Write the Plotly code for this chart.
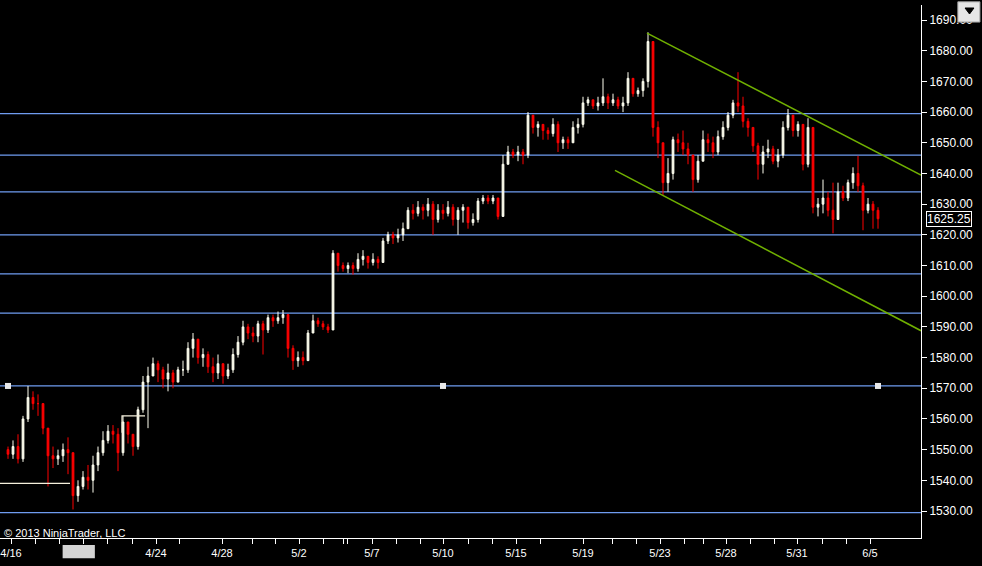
import plotly.graph_objects as go

# ---- data (bar index, price) ----
closes = [
    1548.5, 1551, 1547, 1560, 1567, 1565, 1565, 1557, 1548, 1547,
    1548, 1550, 1549, 1535, 1538, 1541, 1540, 1545, 1549, 1553,
    1556, 1555, 1549, 1559, 1555, 1551, 1563, 1572, 1574, 1578,
    1576, 1573, 1575, 1572, 1576, 1576, 1583, 1586, 1580, 1581,
    1577, 1575, 1578, 1574, 1576, 1581, 1585, 1590, 1588, 1587,
    1591, 1589, 1593, 1592, 1593, 1594, 1583, 1579, 1580, 1579,
    1588, 1592, 1591, 1590, 1589, 1614, 1610, 1609, 1610, 1609,
    1612, 1613, 1611, 1612, 1611, 1618, 1620, 1619, 1620, 1622,
    1628, 1627, 1629, 1628, 1630, 1625, 1628, 1627, 1629, 1625,
    1628, 1629, 1624, 1625, 1631, 1632, 1631, 1632, 1626, 1643,
    1647, 1646, 1647, 1646, 1659, 1655, 1656, 1654, 1653, 1656,
    1650, 1651, 1650, 1655, 1656, 1663, 1664, 1662, 1663, 1665,
    1663, 1664, 1662, 1663, 1671, 1666, 1667, 1670, 1683, 1655,
    1650, 1637, 1640, 1651, 1650, 1648, 1646, 1638, 1644, 1651,
    1650, 1647, 1652, 1655, 1659, 1663, 1662, 1657, 1655, 1649,
    1643, 1647, 1648, 1644, 1646, 1655, 1659, 1654, 1656, 1643,
    1655, 1629, 1630, 1632, 1628, 1625, 1634, 1632, 1637, 1640,
    1636, 1628, 1630, 1628, 1625.25,
]
highs = [
    1551, 1553, 1555, 1561, 1570.75, 1569, 1568, 1563, 1556, 1551,
    1550, 1552, 1554, 1546, 1540, 1543, 1545, 1548, 1551, 1556,
    1558, 1558, 1557, 1561, 1559, 1555, 1564, 1574, 1577, 1580,
    1579, 1577, 1578, 1576, 1577, 1579, 1585, 1588, 1586, 1583,
    1582, 1580, 1581, 1577, 1578, 1583, 1587, 1592, 1591, 1590,
    1592, 1592, 1594, 1594, 1595, 1595.5, 1592, 1584, 1582, 1582,
    1589, 1594, 1593, 1592, 1591, 1615, 1614, 1611, 1611, 1611,
    1614, 1615, 1613, 1614, 1613, 1619, 1621, 1621, 1622, 1624,
    1629, 1630, 1631, 1630, 1632, 1631, 1630, 1630, 1631, 1630,
    1629, 1630, 1628, 1627, 1632, 1633, 1633, 1633, 1631, 1646,
    1649, 1648, 1649, 1648, 1660, 1658, 1657, 1656, 1655, 1658,
    1657, 1652, 1652, 1657, 1658, 1665, 1665, 1664, 1665, 1671,
    1666, 1666, 1665, 1665, 1673, 1670, 1668, 1671, 1686, 1680,
    1657, 1650, 1645, 1652, 1653, 1654, 1650, 1645, 1646, 1654,
    1653, 1652, 1654, 1657, 1660, 1664, 1673, 1665, 1658, 1655,
    1650, 1649, 1651, 1649, 1648, 1657, 1661, 1658, 1657, 1655,
    1658, 1652, 1632, 1638, 1634, 1637, 1637, 1636, 1638, 1642,
    1645.75, 1637, 1632, 1631, 1629,
]
lows = [
    1547, 1547, 1545.5, 1546, 1559, 1563, 1561, 1555, 1538, 1544,
    1545, 1546, 1542, 1530.5, 1533, 1537, 1537, 1536, 1543, 1548,
    1552, 1552, 1543, 1548, 1552, 1548, 1550, 1562, 1557, 1574,
    1572, 1570, 1569, 1570, 1572, 1574, 1575, 1580, 1578, 1577,
    1575, 1572, 1573, 1571.5, 1573, 1575, 1580, 1584, 1586, 1585,
    1585, 1581, 1588, 1590, 1591, 1591, 1580, 1576, 1577, 1577.5,
    1579, 1588, 1590, 1589, 1588, 1589, 1608, 1608, 1607.5, 1607,
    1608, 1610, 1609, 1610, 1609, 1611, 1617, 1617, 1617.5, 1618,
    1622, 1625, 1626, 1625, 1626, 1620, 1624, 1625, 1626, 1623,
    1620, 1624, 1622, 1623, 1624, 1630, 1630, 1630, 1625, 1627,
    1644, 1645, 1644, 1643, 1645, 1653, 1652, 1651, 1651, 1652,
    1647, 1648, 1648, 1650, 1653, 1655, 1662, 1661, 1660.5, 1662,
    1661, 1662, 1661, 1660, 1662, 1665, 1665, 1665, 1668, 1652,
    1645, 1633, 1634, 1638, 1647, 1646, 1643, 1634, 1637, 1644,
    1647, 1645, 1646, 1651, 1654, 1658, 1660, 1655, 1652, 1647,
    1638, 1640, 1645, 1643, 1642, 1645, 1654, 1652, 1652, 1641,
    1642, 1627, 1626, 1627, 1626, 1620.5, 1626, 1631, 1631, 1635,
    1634, 1621.5, 1627, 1622, 1622,
]
first_open = 1550

# horizontal price levels drawn on the chart
levels = [1659.5, 1646, 1634, 1620, 1607.25, 1594.5, 1570.75, 1529.5]

# trend channel (bar index, price)
upper_trend_x = [127.8, 182.6]
upper_trend_y = [1685.75, 1639.5]
lower_trend_x = [121.4, 182.6]
lower_trend_y = [1641.0, 1588.75]

# small white step lines
step1_x = [-1.6, 12.4]
step1_y = [1539, 1539]
step2_x = [22.8, 22.8, 27.4]
step2_y = [1555.5, 1561, 1561]

# anchor squares of the selected line
anchor_x = [0, 87, 174]
anchor_y = [1570.75, 1570.75, 1570.75]

date_labels = ["4/16", "4/24", "4/28", "5/2", "5/7", "5/10",
               "5/15", "5/19", "5/23", "5/28", "5/31", "6/5"]

# ---- layout helpers ----
tick_px = [11, 35, 59, 83, 107, 132, 156, 179, 222, 252, 275, 299, 323, 343,
           347, 372, 396, 420, 443, 468, 492, 516, 540, 583, 612, 636, 660,
           684, 703, 726, 750, 774, 797, 822, 846, 870]
label_px = [11, 156, 222, 299, 372, 443, 516, 583, 660, 726, 797, 870]
tickvals = [(p - 8) / 5 for p in tick_px]
ticktext = []
for p in tick_px:
    ticktext.append(date_labels[label_px.index(p)] if p in label_px else "")

bars = list(range(len(closes)))
opens = [first_open] + closes[:-1]

FONT = "Liberation Sans, Arial, sans-serif"
BLUE = "#6f9cf0"
GREEN = "#70b000"
IVORY = "#fffff0"

fig = go.Figure()

for lv in levels:
    fig.add_hline(y=lv, line=dict(color=BLUE, width=1.2), layer="below")

fig.add_trace(go.Candlestick(
    x=bars, open=opens, high=highs, low=lows, close=closes,
    increasing=dict(line=dict(color=IVORY, width=1), fillcolor=IVORY),
    decreasing=dict(line=dict(color="#ff0000", width=1), fillcolor="#ff0000"),
    whiskerwidth=0, showlegend=False, hoverinfo="skip",
))

for tx, ty in [(upper_trend_x, upper_trend_y), (lower_trend_x, lower_trend_y)]:
    fig.add_trace(go.Scatter(x=tx, y=ty, mode="lines",
                             line=dict(color=GREEN, width=1.5),
                             showlegend=False, hoverinfo="skip"))

for sx, sy in [(step1_x, step1_y), (step2_x, step2_y)]:
    fig.add_trace(go.Scatter(x=sx, y=sy, mode="lines",
                             line=dict(color="#f5f0dc", width=1.2),
                             showlegend=False, hoverinfo="skip"))

fig.add_trace(go.Scatter(x=anchor_x, y=anchor_y, mode="markers",
                         marker=dict(symbol="square", size=6, color="#e8e8e8"),
                         showlegend=False, hoverinfo="skip"))

# last price tag
fig.add_annotation(xref="paper", x=1, xanchor="left", xshift=5,
                   y=closes[-1], text=f"{closes[-1]:.2f}", showarrow=False,
                   font=dict(family=FONT, size=12, color="white"),
                   bgcolor="black", bordercolor="white", borderwidth=1, borderpad=0)

fig.add_annotation(xref="paper", yref="paper", x=0.002, y=0.01,
                   xanchor="left", yanchor="middle", showarrow=False,
                   text="© 2013 NinjaTrader, LLC",
                   font=dict(family=FONT, size=11, color="white"))

# grey scroll thumb under the axis and the dropdown button
fig.add_shape(type="rect", xref="paper", yref="paper",
              x0=0.068, x1=0.103, y0=-0.013, y1=-0.038,
              fillcolor="#d3d3d3", line=dict(width=0))
fig.add_shape(type="rect", xref="paper", yref="paper",
              x0=1.040, x1=1.064, y0=0.968, y1=1.006,
              fillcolor="#e6e6e6", line=dict(color="#a0a0a0", width=1))
fig.add_shape(type="path", xref="paper", yref="paper",
              path="M 1.0478,0.9944 L 1.0575,0.9944 L 1.0527,0.9831 Z",
              fillcolor="black", line=dict(color="black", width=1))

fig.update_layout(
    width=982, height=566,
    paper_bgcolor="black", plot_bgcolor="black",
    margin=dict(l=0, r=61, t=5, b=28),
    font=dict(family=FONT, size=11, color="white"),
    showlegend=False,
    boxgap=0.5,
    xaxis=dict(range=[-1.6, 182.6], rangeslider=dict(visible=False),
               tickmode="array", tickvals=tickvals, ticktext=ticktext,
               ticks="outside", ticklen=5, tickcolor="white",
               showline=True, linecolor="white", linewidth=1, mirror=False,
               showgrid=False, zeroline=False,
               tickfont=dict(family=FONT, size=11, color="white")),
    yaxis=dict(range=[1521.2, 1694.9], side="right", dtick=10,
               tickformat=".2f", ticks="outside", ticklen=5, tickcolor="white",
               showline=True, linecolor="white", linewidth=1,
               showgrid=False, zeroline=False,
               tickfont=dict(family=FONT, size=12, color="white")),
)

fig.write_html("out.html", config={"displayModeBar": False},
               post_script="document.body.style.margin='0';")
